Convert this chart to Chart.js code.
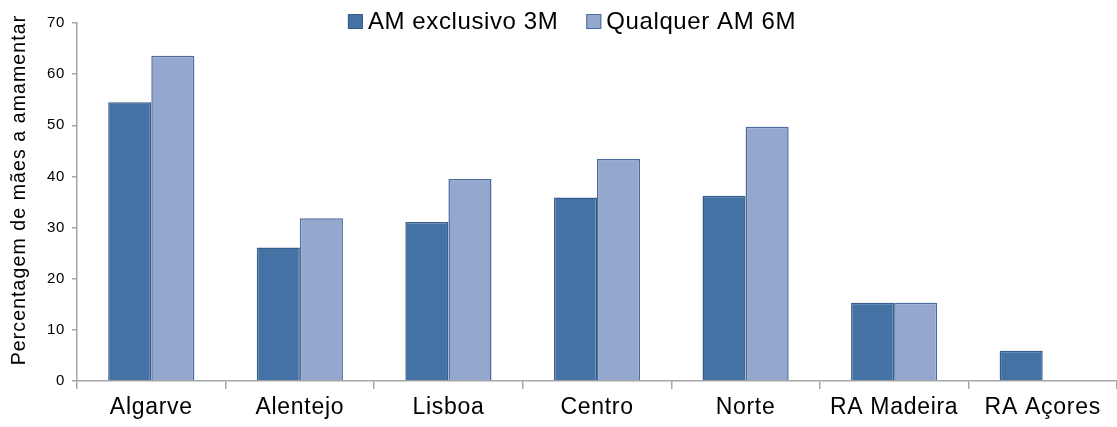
<!DOCTYPE html>
<html>
<head>
<meta charset="utf-8">
<script src="https://cdn.jsdelivr.net/npm/chart.js@4.4.0/dist/chart.umd.min.js"></script>
<style>
    html, body { margin: 0; padding: 0; background: #fff; overflow: hidden; }
    #wrap { width: 1117px; height: 427px; position: relative; }
</style>
</head>
<body>
<div id="wrap"><canvas id="chart"></canvas></div>
<script>
const regions = ['Algarve', 'Alentejo', 'Lisboa', 'Centro', 'Norte', 'RA Madeira', 'RA Açores'];
const exclusivo3M = [54.5, 26.1, 31.1, 35.9, 36.2, 15.3, 5.9];
const qualquer6M = [63.6, 31.8, 39.5, 43.4, 49.7, 15.3, null];
const seriesLabels = ['AM exclusivo 3M', 'Qualquer AM 6M'];
const yTitle = 'Percentagem de mães a amamentar';

const FONT = '"Liberation Sans", Arial, sans-serif';
const AXIS_GREY = '#a6a6a6';

Chart.defaults.font.family = FONT;
Chart.defaults.color = '#000';

// the source text is set a little wide, so open up the letters a touch
const spacingPlugin = {
    id: 'spacing',
    beforeLayout(chart) { chart.ctx.letterSpacing = '0.7px'; },
    beforeDraw(chart) { chart.ctx.letterSpacing = '0.7px'; },
};

const extrasPlugin = {
    id: 'extras',
    afterDraw(chart) {
        const { ctx } = chart;

        // y axis title, sits a bit above the axis middle
        ctx.save();
        ctx.letterSpacing = '1.1px';
        ctx.font = `19.5px ${FONT}`;
        ctx.fillStyle = '#000';
        ctx.translate(20, 190);
        ctx.rotate(-Math.PI / 2);
        ctx.textAlign = 'center';
        ctx.textBaseline = 'middle';
        ctx.fillText(yTitle, 0, 0);
        ctx.restore();

        // legend across the top
        ctx.save();
        ctx.letterSpacing = '0.6px';
        ctx.font = `24px ${FONT}`;
        const box = 15;
        const gap = 5;
        const between = 28;
        const items = chart.data.datasets.map((ds) => ({
            ds,
            w: box + gap + ctx.measureText(ds.label).width,
        }));
        const total = items.reduce((sum, item) => sum + item.w, 0) + between * (items.length - 1);
        let x = 572 - total / 2;
        items.forEach((item) => {
            ctx.fillStyle = item.ds.backgroundColor;
            ctx.fillRect(x, 14, box, box);
            ctx.strokeStyle = item.ds.borderColor;
            ctx.lineWidth = 1;
            ctx.strokeRect(x + 0.5, 14.5, box - 1, box - 1);
            ctx.fillStyle = '#000';
            ctx.textBaseline = 'alphabetic';
            ctx.textAlign = 'left';
            ctx.fillText(item.ds.label, x + box + gap, 29);
            x += item.w + between;
        });
        ctx.restore();
    },
};

new Chart(document.getElementById('chart'), {
    type: 'bar',
    data: {
        labels: regions,
        datasets: [
            {
                label: seriesLabels[0],
                data: exclusivo3M,
                backgroundColor: '#4572A5',
                borderColor: '#385d8a',
                borderWidth: 1.5,
            },
            {
                label: seriesLabels[1],
                data: qualquer6M,
                backgroundColor: '#94A8CF',
                borderColor: '#4a6c9c',
                borderWidth: 1.5,
            },
        ],
    },
    options: {
        responsive: true,
        maintainAspectRatio: false,
        animation: false,
        categoryPercentage: 0.58,
        barPercentage: 1,
        layout: { padding: { top: 23, right: 0, bottom: 0, left: 0 } },
        plugins: {
            legend: { display: false },
            tooltip: { enabled: false },
        },
        scales: {
            x: {
                grid: { display: true, offset: true, drawOnChartArea: false, drawTicks: true, tickLength: 8, color: AXIS_GREY, lineWidth: 1.5 },
                border: { color: AXIS_GREY, width: 1.5 },
                ticks: { font: { size: 23 }, color: '#000', padding: 5, maxRotation: 0, autoSkip: false },
                afterFit(scale) { scale.height = 46; },
            },
            y: {
                min: 0,
                max: 70,
                grid: { drawOnChartArea: false, drawTicks: true, tickLength: 5, color: AXIS_GREY, lineWidth: 1.5 },
                border: { color: AXIS_GREY, width: 1.5 },
                ticks: { stepSize: 10, font: { size: 15 }, color: '#000', padding: 7 },
                afterFit(scale) { scale.width = 77; },
            },
        },
    },
    plugins: [spacingPlugin, extrasPlugin],
});
</script>
</body>
</html>
